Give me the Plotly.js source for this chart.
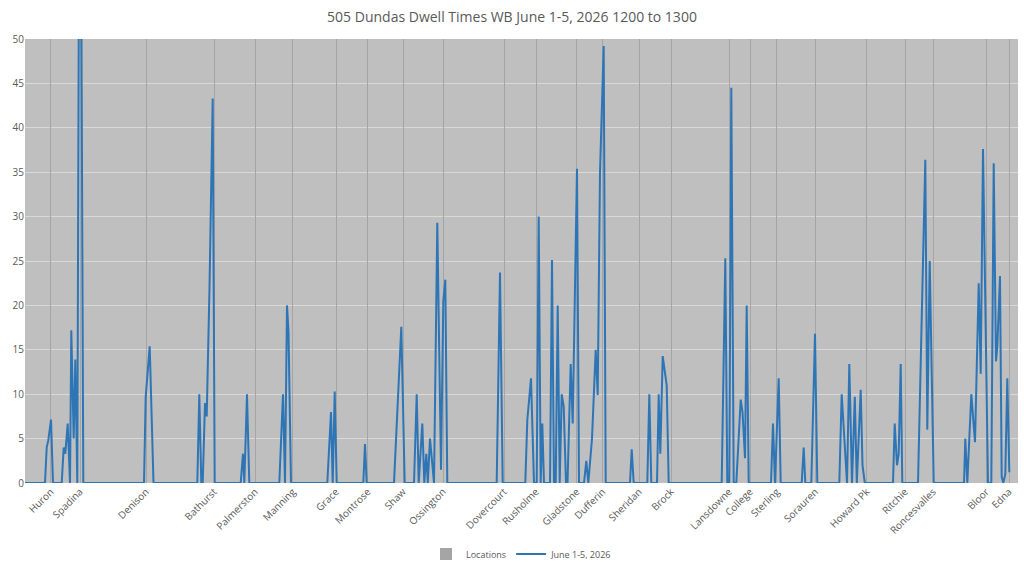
<!DOCTYPE html>
<html>
<head>
<meta charset="utf-8">
<script src="https://cdn.plot.ly/plotly-3.0.1.min.js"></script>
<style>html,body{margin:0;padding:0;background:#fff;}#chart{width:1024px;height:561px;}</style>
</head>
<body>
<div id="chart"></div>
<script>
// Stop locations (position along route, in sample units) and names
const locationNames = ["Huron","Spadina","Denison","Bathurst","Palmerston","Manning","Grace","Montrose","Shaw","Ossington","Dovercourt","Rusholme","Gladstone","Dufferin","Sheridan","Brock","Lansdowne","College","Sterling","Sorauren","Howard Pk","Ritchie","Roncesvalles","Bloor","Edna"];
const locationPos = [25.7,55,121,189,230,267.7,311,342.7,378,418,479,511,551.7,577.5,614,646,704,725,751.7,790.3,841.7,880,908,961,984];
const locationMarker = [50,50,50,50,50,50,50,50,50,50,50,50,50,50,50,50,50,50,50,50,50,50,50,50,50];

// Dwell time readings (position along route, dwell time)
const dwellPos = [
  0,
  20,21.7,23.3,26,28,
  36.7,38.7,40.3,42.7,45,46.3,48.7,50.3,52.3,54,56.3,58.3,
  119,120.7,124.7,128.5,
  172.3,174.3,176.3,177.7,180,181.7,184.5,187.7,189.7,
  215.7,218,219.3,222,224.3,
  254.3,258,260,262,263.5,266,
  302.3,306,307.7,309.7,311.7,
  338.3,340,341.7,
  369,376.3,379.7,
  389,391.7,393.7,397.3,399.3,401.3,402.8,405,409,412.3,416,418.3,420.3,422.3,
  471.7,475,477.7,
  500.3,502.3,506,509,511.7,513.7,515.7,517.3,519,
  525,527,529,530.7,532.7,534.7,536.7,538.7,541,542.5,545.7,547.7,552,554,
  559,561.3,563.3,567,570.7,572.7,575,578.7,580.7,
  605,606.7,608.7,
  622.3,624.3,626.3,632,633.7,635.3,637.7,641.7,643.7,
  696.7,700.3,702.3,704.3,706.3,708.7,
  711.3,715.7,717.5,720,721.7,723.7,
  746,748,750,753.7,755.7,
  776.7,778.7,780.3,786.3,790,792.3,
  814.3,816.7,822,824.3,827,829.8,831.8,835.7,837.5,839.8,
  868,869.7,872,873.7,875.7,877.3,
  893,900.3,902.3,904.7,908.7,
  939,940.3,942.3,946.3,950,953.7,955.7,958,963,966.3,968.7,971,972.3,975,976.7,978.3,980.3,982.3,984.3
];
const dwellTime = [
  0,
  0,4.0,4.8,7.15,0,
  0,4.0,3.3,6.7,0,17.2,5.0,13.9,0,60,55,0,
  0,9.7,15.4,0,
  0,10,0,0,9.0,7.5,22,43.3,0,
  0,3.3,0,10,0,
  0,10,0,20,17,0,
  0,8.0,0,10.3,0,
  0,4.4,0,
  0,17.6,0,
  0,10,0,6.7,0,3.3,0,5.0,0,29.3,1.5,20.5,22.9,0,
  0,23.7,0,
  0,7.1,11.8,0,0,30.0,0,6.7,0,
  0,25.1,0,0,20,0,10,8.6,0,0,13.4,6.7,35.4,0,
  0,2.5,0,5,15,9.9,35,49.2,0,
  0,3.8,0,
  0,10,0,0,10,3.3,14.3,11,0,
  0,25.3,0,0,44.5,0,
  0,9.4,8.0,2.8,20,0,
  0,6.7,0,11.8,0,
  0,4.0,0,0,16.8,0,
  0,10,0,13.4,0,9.7,0,10.5,2.0,0,
  0,6.7,2,3.3,13.4,0,
  0,36.4,6,25,0,
  0,5,0,10,4.6,22.5,12.3,37.6,0,0,36,13.7,15.4,23.3,0.7,0,1,11.8,1.2
];

const yTicks = [0,5,10,15,20,25,30,35,40,45,50];

const font = "Open Sans, Liberation Sans, sans-serif";
const textGray = "#595959";

const traces = [
  {
    type: "bar",
    name: "Locations",
    x: locationPos,
    y: locationMarker,
    width: 1,
    marker: {color: "#a5a5a5", line: {width: 0}},
    hoverinfo: "skip"
  },
  {
    type: "scatter",
    mode: "lines",
    name: "June 1-5, 2026",
    x: dwellPos,
    y: dwellTime,
    line: {color: "#2e75b6", width: 2},
    hoverinfo: "skip",
    cliponaxis: true
  }
];

const layout = {
  width: 1024,
  height: 561,
  margin: {l: 25, r: 6, t: 39, b: 78, autoexpand: false},
  paper_bgcolor: "#ffffff",
  plot_bgcolor: "#bfbfbf",
  font: {family: font, size: 10, color: textGray},
  title: {
    text: "505 Dundas Dwell Times WB June 1-5, 2026 1200 to 1300",
    font: {family: font, size: 14, color: textGray},
    x: 0.5, xanchor: "center",
    y: 1 - 17/561, yref: "container", yanchor: "middle"
  },
  xaxis: {
    range: [0, 993],
    tickmode: "array",
    tickvals: locationPos,
    ticktext: locationNames,
    tickangle: -45,
    showgrid: false,
    zeroline: false,
    showline: false,
    ticks: "",
    automargin: false,
    tickfont: {family: font, size: 10, color: textGray},
    fixedrange: true
  },
  yaxis: {
    range: [0, 50],
    tickmode: "array",
    tickvals: yTicks,
    showgrid: true,
    gridcolor: "#d9d9d9",
    gridwidth: 1,
    zeroline: false,
    showline: false,
    ticks: "",
    ticklen: 0,
    automargin: false,
    tickfont: {family: font, size: 10, color: textGray},
    fixedrange: true
  },
  bargap: 0,
  showlegend: true,
  legend: {
    orientation: "h",
    x: 0.5, xanchor: "center",
    y: -0.16, yanchor: "middle",
    font: {family: font, size: 9, color: textGray},
    traceorder: "normal"
  }
};

Plotly.newPlot("chart", traces, layout, {displayModeBar: false, staticPlot: true});
</script>
</body>
</html>
